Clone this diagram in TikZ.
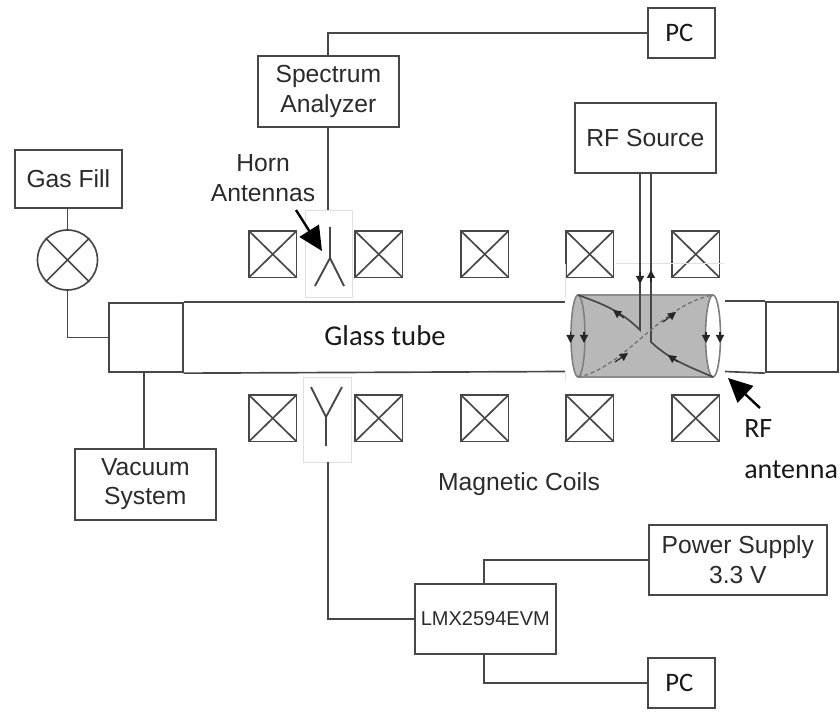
\documentclass[tikz,border=0pt]{standalone}
\usepackage{fontspec}
\setmainfont{Carlito}
\newfontfamily\arl{Liberation Sans}
\usetikzlibrary{arrows.meta}
\definecolor{ln}{gray}{0.28}
\definecolor{txtg}{gray}{0.17}
\tikzset{
 x=0.75pt,y=-0.75pt,
 wire/.style={draw=ln,line width=1.25pt},
 boxn/.style={draw=ln,line width=1.25pt,inner sep=0pt,anchor=north west,align=center},
 faint/.style={draw=black!12,line width=0.5pt},
 cal/.style={font=\fontsize{20}{24}\selectfont,text=black!90,align=center,inner sep=0pt},
 ari/.style={font=\arl\fontsize{18.5}{23}\selectfont,text=txtg,align=center,inner sep=0pt},
 bigarrow/.style={-{Triangle[length=18pt,width=17pt]},line width=1.8pt,black},
 tinydown/.style={-{Triangle[length=6pt,width=6pt]},draw=black!85,line width=0.9pt},
}
\newcommand{\coil}[2]{%
 \draw[wire] (#1,#2) rectangle ++(47.5,46.5);
 \draw[wire] (#1,#2) -- ++(47.5,46.5);
 \draw[wire] (#1+47.5,#2) -- ++(-47.5,46.5);}
\newcommand{\bx}[5]{\node[boxn,minimum width=#3*0.75pt,minimum height=#4*0.75pt] (#5) at (#1,#2) {};}
\begin{document}
\begin{tikzpicture}
\useasboundingbox (0,0) rectangle (840,713);
\fill[white] (0,0) rectangle (840,713);
% boxes
\bx{647}{7}{67}{50}{pctop}
\bx{257}{55}{141}{71}{spec}
\bx{14}{149}{107}{58}{gas}
\bx{574}{102}{141}{70}{rf}
\bx{74}{448}{141}{71}{vac}
\bx{648}{524}{178}{70}{pow}
\bx{414}{583}{141}{70}{lmx}
\bx{647}{657}{67}{50}{pcbot}
\node[cal] at ([xshift=-1.5pt]pctop.center) {PC};
\node[cal] at ([xshift=-1.5pt]pcbot.center) {PC};
\node[ari] at (spec.center) {Spectrum\\Analyzer};
\node[ari] at (gas.center) {Gas Fill};
\node[ari,font=\arl\fontsize{18.5}{22}\selectfont] at (vac.center) {Vacuum\\System};
\node[ari] at (rf.center) {RF Source};
\node[ari,font=\arl\fontsize{18.5}{22}\selectfont] at (pow.center) {Power Supply\\3.3 V};
\node[ari,font=\arl\fontsize{15}{18}\selectfont] at (lmx.center) {LMX2594EVM};
\node[ari,font=\arl\fontsize{18.5}{22}\selectfont] at (263,178) {Horn\\Antennas};
\node[cal,font=\fontsize{21.5}{25}\selectfont] at (385,336) {Glass tube};
\node[ari] at (519,484) {Magnetic Coils};
\node[cal,font=\fontsize{21}{31}\selectfont,align=left,anchor=west] at (744,449) {RF\\antenna};
% coils
\foreach \x in {249,355,461,566,672} {\coil{\x}{231}\coil{\x}{395}}
% tube
\node[boxn,minimum width=74*0.75pt,minimum height=69.5*0.75pt] (tl) at (108,302) {};
\draw[wire] (tl.north east) -- (565,302);
\draw[wire] (tl.south east) -- (565,371.5);
\node[boxn,minimum width=72*0.75pt,minimum height=70.5*0.75pt] (tr) at (765,301) {};
\draw[wire] (tr.north west) -- (725,301);
\draw[wire] (tr.south west) -- (725,371.5);
% faint
\draw[faint] (616,263) -- (724,263);
\draw[faint] (565,264) -- (565,298);
\draw[faint] (565,373) -- (565,380);
\draw[faint] (305,210) rectangle (352,297);
\draw[faint] (303,377) rectangle (351,462);
% valve
\node[draw=ln,line width=1.25pt,circle,minimum size=60*0.75pt,inner sep=0pt] (valve) at (67.5,260) {};
\draw[wire] (valve.45) -- (valve.225);
\draw[wire] (valve.135) -- (valve.315);
\draw[wire] (gas.south -| valve.north) -- (valve.north);
\draw[wire] (valve.south) |- (tl.west);
\draw[wire] (vac.north -| 144,0) -- (tl.south -| 144,0);
\draw[wire] (pctop.west) -| (328,55);
\draw[wire] (328,126) -- (328,210);
% antennas
\draw[wire,line width=1.4pt] (330,227) -- (330,258) (315,286) -- (330,258) -- (344,286);
\draw[wire,line width=1.4pt] (326,446) -- (326,417) (311,387) -- (326,417) -- (342,387);
\draw[wire] (328,462) |- (lmx.west);
% lower wires
\draw[wire] (484,583) |- (pow.west);
\draw[wire] (484,653) |- (pcbot.west);
% cylinder
\fill[black!28] (578,295) -- (713,295) .. controls (703.7,295) and (703.7,377) .. (713,377) -- (578,377) .. controls (568.7,377) and (568.7,295) .. (578,295) -- cycle;
\draw[draw=black!45,line width=0.9pt] (578,295) -- (713,295) (578,377) -- (713,377);
\draw[draw=black!50,line width=1.2pt] (578,336) ellipse [x radius=7,y radius=41];
\draw[draw=black!50,line width=1.2pt] (713,336) ellipse [x radius=7.5,y radius=41];
% coil wires on cylinder
\draw[wire] (rf.south -| 640,0) -- (640,330) .. controls (620,310) and (600,303) .. (578,295);
\draw[wire] (rf.south -| 651,0) -- (651,342) .. controls (670,360) and (690,367) .. (713,377);
\draw[draw=black!55,densely dashed,line width=1pt] (578,377) .. controls (625,368) and (660,305) .. (713,295);
% small arrows
\foreach \xa/\ya/\xb/\yb in {640/272/640/284, 651/282/651/270,
 570.5/332/570.5/343, 584/332/584/343, 706/332/706/343, 720/332/720/343,
 624/318/613/310, 678/362/668/355, 615/362/628/353, 663/322/676/312}
 {\draw[tinydown] (\xa,\ya) -- (\xb,\yb);}
% big arrows
\draw[bigarrow] (296,210) -- (322,251);
\draw[bigarrow] (760,408) -- (728,378);
\end{tikzpicture}
\end{document}
